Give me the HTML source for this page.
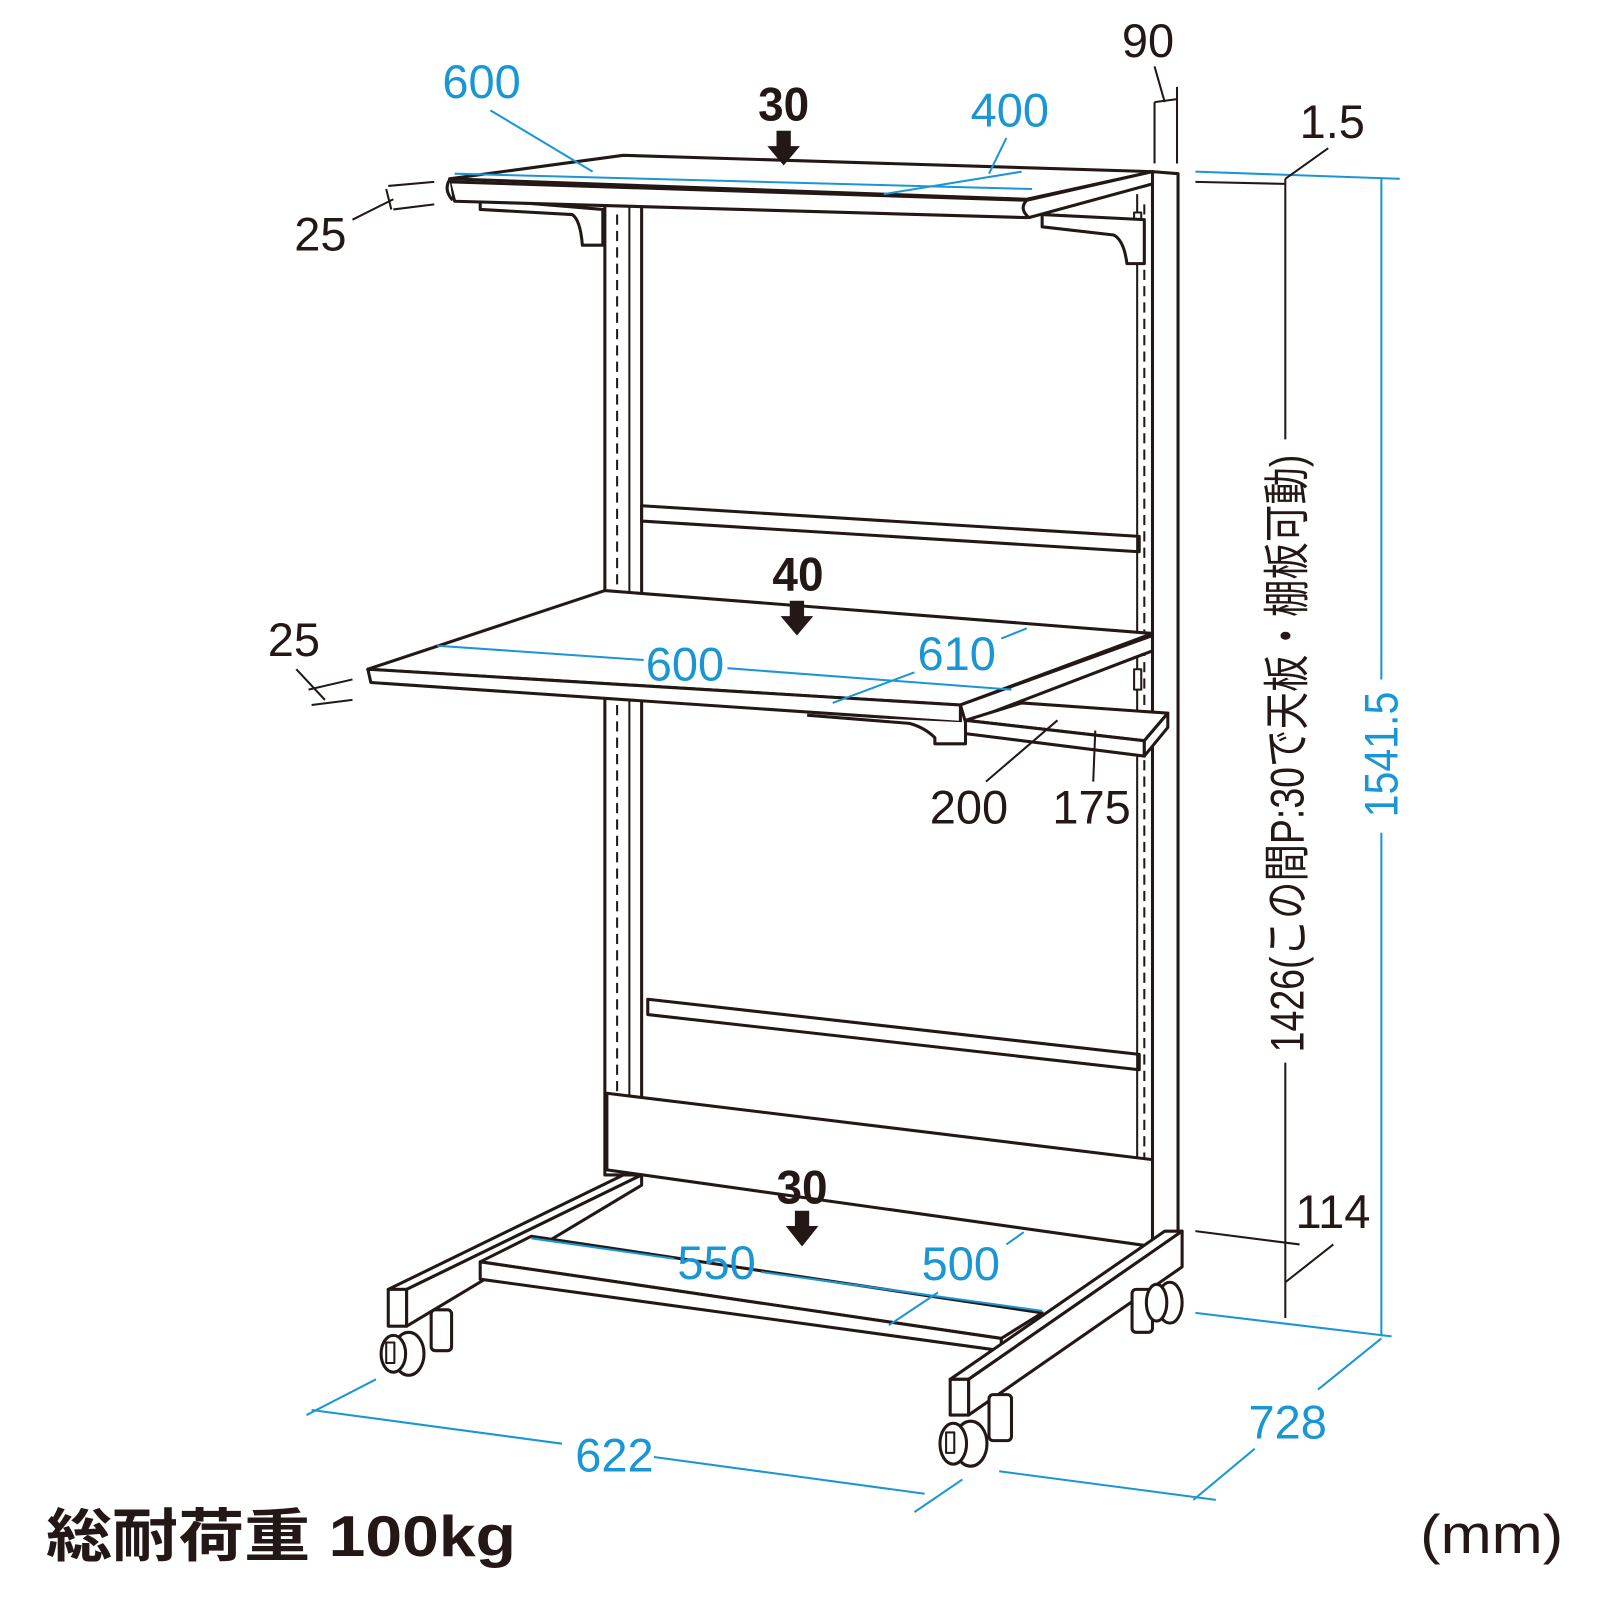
<!DOCTYPE html>
<html><head><meta charset="utf-8"><style>
html,body{margin:0;padding:0;background:#fff;}
svg{display:block}
.b{fill:#1a96d4;font-family:"Liberation Sans Narrow","Liberation Sans",sans-serif;font-size:46px}
.k{fill:#231815;font-family:"Liberation Sans Narrow","Liberation Sans",sans-serif;font-size:46px}
.kb{fill:#231815;font-family:"Liberation Sans","Noto Sans CJK JP",sans-serif;font-size:46px;font-weight:bold}
</style></head><body>
<svg width="1600" height="1600" viewBox="0 0 1566 1566" xmlns="http://www.w3.org/2000/svg">
<g fill="#fff" stroke="#231815" stroke-width="3" stroke-linejoin="round">
<rect x="592" y="200" width="36" height="950"/>
<line x1="604" y1="210" x2="604" y2="1140" stroke-dasharray="10,6" stroke-width="2"/>
<line x1="616" y1="200" x2="616" y2="1150" stroke-width="2"/>
<polygon points="628,495 1115,525 1115,540 628,510"/>
<polygon points="634,978 1115,1032 1115,1047 634,993"/>
<polygon points="1128,168 1153,170 1153,1205 1128,1220"/>
<line x1="1120" y1="200" x2="1120" y2="1135" stroke-dasharray="10,6" stroke-width="2"/>
<line x1="1113" y1="190" x2="1113" y2="1135" stroke-width="2"/>
<rect x="1110" y="208" width="7" height="20" stroke-width="2"/>
<rect x="1110" y="655" width="7" height="20" stroke-width="2"/>
<polygon points="594,1070 1128,1135 1128,1220 594,1145"/>
<path d="M470,195 L470,205 L560,210 Q568,215 570,240 L590,240 L590,205 Z"/>
<path d="M1020,210 L1020,222 L1090,230 Q1100,235 1103,258 L1120,258 L1120,215 Z"/>
<polygon points="440,175 610,152 1128,168 1005,195"/>
<polygon points="440,178 1005,196 1005,213 445,197"/>
<path d="M440,176 q-6,10 3,20" />
<path d="M1005,196 q-8,8 2,17 L1128,180 L1128,168 Z"/>
<polygon points="360,655 592,578 1128,620 940,690"/>
<polygon points="360,655 940,690 940,707 363,668"/>
<polygon points="940,690 1128,622 1128,637 945,707"/>
<path d="M790,700 L890,708 Q905,712 915,722 L915,728 L945,728 L945,707"/>
<polygon points="945,705 1000,688 1143,698 1120,725"/>
<polygon points="945,705 1120,725 1120,740 945,718"/>
<polygon points="1120,725 1143,698 1143,712 1120,740"/>
<polygon points="380,1262 610,1150 628,1150 398,1262"/>
<rect x="380" y="1262" width="18" height="36"/>
<polygon points="398,1262 628,1150 628,1160 398,1298"/>
<polygon points="470,1235 520,1210 1020,1285 980,1310"/>
<polygon points="470,1235 980,1310 980,1322 470,1252"/>
<polygon points="930,1350 1140,1205 1157,1205 948,1350"/>
<polygon points="948,1350 1157,1205 1157,1240 948,1385"/>
<rect x="930" y="1350" width="18" height="35"/>
<rect x="422" y="1282" width="20" height="40" rx="4"/>
<ellipse cx="400" cy="1325" rx="15" ry="21"/><ellipse cx="385" cy="1325" rx="12" ry="18"/>
<rect x="378" y="1314" width="8" height="20" stroke-width="2"/>
<rect x="1108" y="1262" width="20" height="42" rx="4"/>
<ellipse cx="1145" cy="1275" rx="12" ry="20"/><ellipse cx="1132" cy="1275" rx="10" ry="18"/>
<rect x="968" y="1365" width="22" height="45" rx="4"/>
<ellipse cx="950" cy="1413" rx="16" ry="22"/><ellipse cx="933" cy="1413" rx="13" ry="20"/>
<rect x="926" y="1402" width="8" height="20" stroke-width="2"/>
</g>
<g fill="#231815">
<polygon points="760,128 774,128 774,143 783,143 767,162 751,143 760,143"/>
<polygon points="773,588 787,588 787,603 796,603 780,622 764,603 773,603"/>
<polygon points="778,1185 792,1185 792,1200 801,1200 785,1220 769,1200 778,1200"/>
</g>
<text class="kb" x="742" y="118" font-size="42" textLength="50" lengthAdjust="spacingAndGlyphs">30</text>
<text class="kb" x="756" y="578" font-size="42" textLength="50" lengthAdjust="spacingAndGlyphs">40</text>
<text class="kb" x="760" y="1178" font-size="42" textLength="50" lengthAdjust="spacingAndGlyphs">30</text>
<g stroke="#1a96d4" stroke-width="2" fill="none">
<line x1="480" y1="108" x2="580" y2="168"/>
<line x1="445" y1="170" x2="1010" y2="185"/>
<line x1="865" y1="190" x2="1000" y2="168"/>
<line x1="985" y1="135" x2="968" y2="170"/>
<line x1="428" y1="632" x2="630" y2="646"/>
<line x1="712" y1="654" x2="990" y2="675"/>
<line x1="815" y1="688" x2="895" y2="658"/>
<line x1="980" y1="625" x2="1005" y2="615"/>
<line x1="520" y1="1212" x2="660" y2="1232"/>
<line x1="745" y1="1245" x2="1020" y2="1283"/>
<line x1="870" y1="1297" x2="918" y2="1265"/>
<line x1="985" y1="1218" x2="1002" y2="1206"/>
<line x1="300" y1="1385" x2="368" y2="1350"/>
<line x1="305" y1="1380" x2="550" y2="1413"/>
<line x1="640" y1="1426" x2="905" y2="1462"/>
<line x1="895" y1="1480" x2="942" y2="1448"/>
<line x1="978" y1="1440" x2="1190" y2="1468"/>
<line x1="1168" y1="1468" x2="1228" y2="1418"/>
<line x1="1290" y1="1360" x2="1352" y2="1310"/>
<line x1="1170" y1="1285" x2="1362" y2="1308"/>
<line x1="1170" y1="168" x2="1370" y2="175"/>
<line x1="1352" y1="175" x2="1352" y2="665"/>
<line x1="1352" y1="815" x2="1352" y2="1308"/>
</g>
<g stroke="#231815" stroke-width="2" fill="none">
<line x1="1130" y1="100" x2="1130" y2="160"/><line x1="1152" y1="85" x2="1152" y2="160"/>
<line x1="1130" y1="100" x2="1152" y2="97"/>
<line x1="1130" y1="65" x2="1140" y2="100"/>
<line x1="1170" y1="178" x2="1258" y2="180"/>
<line x1="1258" y1="175" x2="1300" y2="145"/>
<line x1="1258" y1="175" x2="1258" y2="430"/>
<line x1="1258" y1="1040" x2="1258" y2="1290"/>
<line x1="1170" y1="1205" x2="1272" y2="1218"/>
<line x1="1258" y1="1255" x2="1305" y2="1218"/>
<line x1="380" y1="182" x2="425" y2="178"/><line x1="385" y1="205" x2="425" y2="200"/>
<line x1="378" y1="185" x2="383" y2="205"/>
<line x1="345" y1="215" x2="385" y2="195"/>
<line x1="302" y1="675" x2="345" y2="665"/><line x1="305" y1="690" x2="345" y2="685"/>
<line x1="290" y1="655" x2="318" y2="685"/>
<line x1="965" y1="765" x2="1035" y2="705"/>
<line x1="1070" y1="765" x2="1072" y2="715"/>
</g>
<text class="b" x="433" y="96">600</text>
<text class="b" x="950" y="124">400</text>
<text class="b" x="632" y="666">600</text>
<text class="b" x="898" y="656">610</text>
<text class="b" x="663" y="1252">550</text>
<text class="b" x="902" y="1253">500</text>
<text class="b" x="563" y="1440">622</text>
<text class="b" x="1222" y="1408">728</text>
<text class="b" transform="translate(1368,800) rotate(-90)" textLength="123" lengthAdjust="spacingAndGlyphs">1541.5</text>
<text class="k" x="1098" y="56">90</text>
<text class="k" x="1272" y="135">1.5</text>
<text class="k" x="288" y="245">25</text>
<text class="k" x="262" y="642">25</text>
<text class="k" x="910" y="806">200</text>
<text class="k" x="1030" y="806">175</text>
<text class="k" x="1268" y="1202">114</text>
<text class="k" font-family="'Liberation Sans Narrow','Liberation Sans','Noto Sans CJK JP',sans-serif" transform="translate(1276,1030) rotate(-90)" font-size="42" textLength="585" lengthAdjust="spacingAndGlyphs">1426(この間P:30で天板・棚板可動)</text>
<text x="45" y="1523" font-family="'Liberation Sans','Noto Sans CJK JP',sans-serif" font-weight="bold" font-size="56" fill="#231815" textLength="460" lengthAdjust="spacingAndGlyphs">総耐荷重 100kg</text>
<text x="1390" y="1520" font-family="'Liberation Sans',sans-serif" font-size="54" fill="#231815" textLength="140" lengthAdjust="spacingAndGlyphs">(mm)</text>
</svg>
</body></html>
